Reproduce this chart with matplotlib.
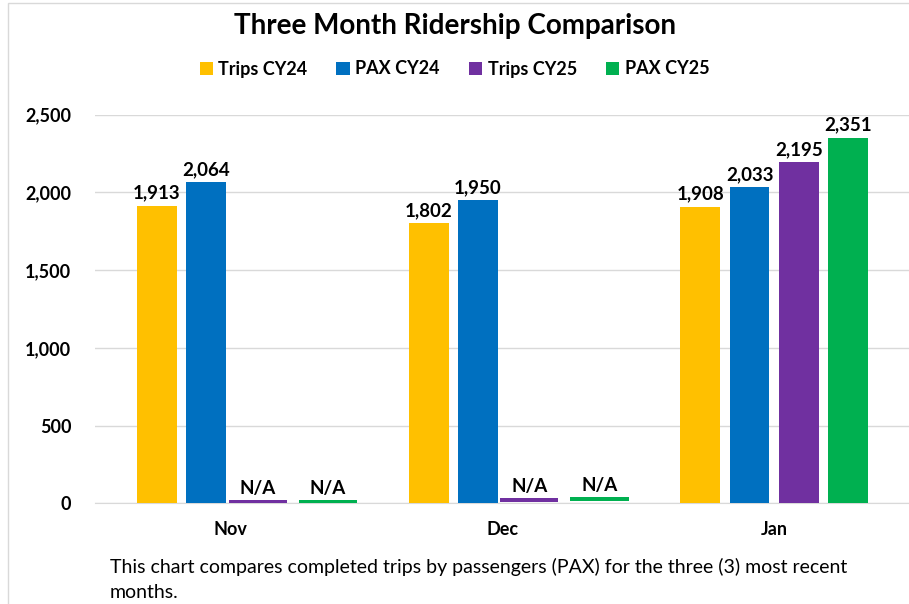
import matplotlib.pyplot as plt
import matplotlib.patches as mpatches
import numpy as np

# chart data
months = ['Nov', 'Dec', 'Jan']
series = ['Trips CY24', 'PAX CY24', 'Trips CY25', 'PAX CY25']
trips_cy24 = [1913, 1802, 1908]
pax_cy24 = [2064, 1950, 2033]
trips_cy25 = [None, None, 2195]
pax_cy25 = [None, None, 2351]
# small placeholder levels drawn where CY25 data is not available
na_trips_cy25 = [20, 36, None]
na_pax_cy25 = [21, 42, None]
colors = ['#FFC000', '#0070C0', '#7030A0', '#00B050']

plt.rcParams['font.family'] = ['Lato', 'DejaVu Sans']

fig = plt.figure(figsize=(9.09, 6.04), dpi=100)
ax = fig.add_axes([95/909, 1 - 503.3/604, 815/909, (503.3 - 114.5)/604])

x = np.arange(len(months))
width = 0.147
pitch = 0.1815
all_series = [trips_cy24, pax_cy24, trips_cy25, pax_cy25]

for k, (vals, col, name) in enumerate(zip(all_series, colors, series)):
    off = (k - 1.5)*pitch
    xs = [xi + off for xi, v in zip(x, vals) if v is not None]
    vs = [v for v in vals if v is not None]
    bars = ax.bar(xs, vs, width, color=col, label=name, zorder=3)
    for b, v in zip(bars, vs):
        ax.annotate('{:,}'.format(v), (b.get_x() + b.get_width()/2, v),
                    xytext=(0, 3), textcoords='offset points',
                    ha='center', va='bottom', fontsize=13.5,
                    fontweight='bold', annotation_clip=False)

# N/A placeholders (thin flat markers)
na_w = 0.214
na_th = 28
for vals, off, col in [(na_trips_cy25, 0.099, colors[2]),
                       (na_pax_cy25, 0.357, colors[3])]:
    for xi, v in zip(x, vals):
        if v is None:
            continue
        ax.bar(xi + off, na_th, na_w, bottom=v - na_th, color=col, zorder=3)
        ax.annotate('N/A', (xi + off, v), xytext=(0, 2),
                    textcoords='offset points', ha='center', va='bottom',
                    fontsize=13.5, fontweight='bold')

ax.set_xlim(-0.5, 2.5)
ax.set_ylim(0, 2500)
ax.set_yticks(np.arange(0, 2501, 500))
ax.yaxis.set_major_formatter(plt.FuncFormatter(lambda v, p: '{:,.0f}'.format(v)))
ax.set_xticks(x)
ax.set_xticklabels(months)
ax.grid(axis='y', color='#d9d9d9', linewidth=1, zorder=0)
for s in ['top', 'right', 'left']:
    ax.spines[s].set_visible(False)
ax.spines['bottom'].set_color('#d9d9d9')
ax.spines['bottom'].set_zorder(2)
ax.tick_params(length=0)
ax.tick_params(axis='y', pad=17, labelsize=13)
ax.tick_params(axis='x', pad=13, labelsize=13)
for lab in ax.get_xticklabels() + ax.get_yticklabels():
    lab.set_fontweight('bold')

fig.text(0.5, 1 - 26/604, 'Three Month Ridership Comparison', ha='center',
         va='center', fontsize=20, fontweight='bold')

leg = fig.legend(loc='center', bbox_to_anchor=(0.5, 1 - 69/604), ncol=4,
                 frameon=False, prop={'weight': 'bold', 'size': 13},
                 handlelength=0.75, handleheight=0.75, handletextpad=0.3,
                 columnspacing=1.6)

fig.text(110/909, 1 - 567/604,
         'This chart compares completed trips by passengers (PAX) for the three (3) most recent',
         ha='left', va='center', fontsize=14)
fig.text(110/909, 1 - 592/604, 'months.', ha='left', va='center', fontsize=14)

# chart area border
fig.patches.append(mpatches.Rectangle((8/909, -0.1), 1.2, 1 - 3/604 + 0.1,
                                      transform=fig.transFigure, fill=False,
                                      edgecolor='#d9d9d9', linewidth=1))

fig.savefig('out.png', dpi=100)
